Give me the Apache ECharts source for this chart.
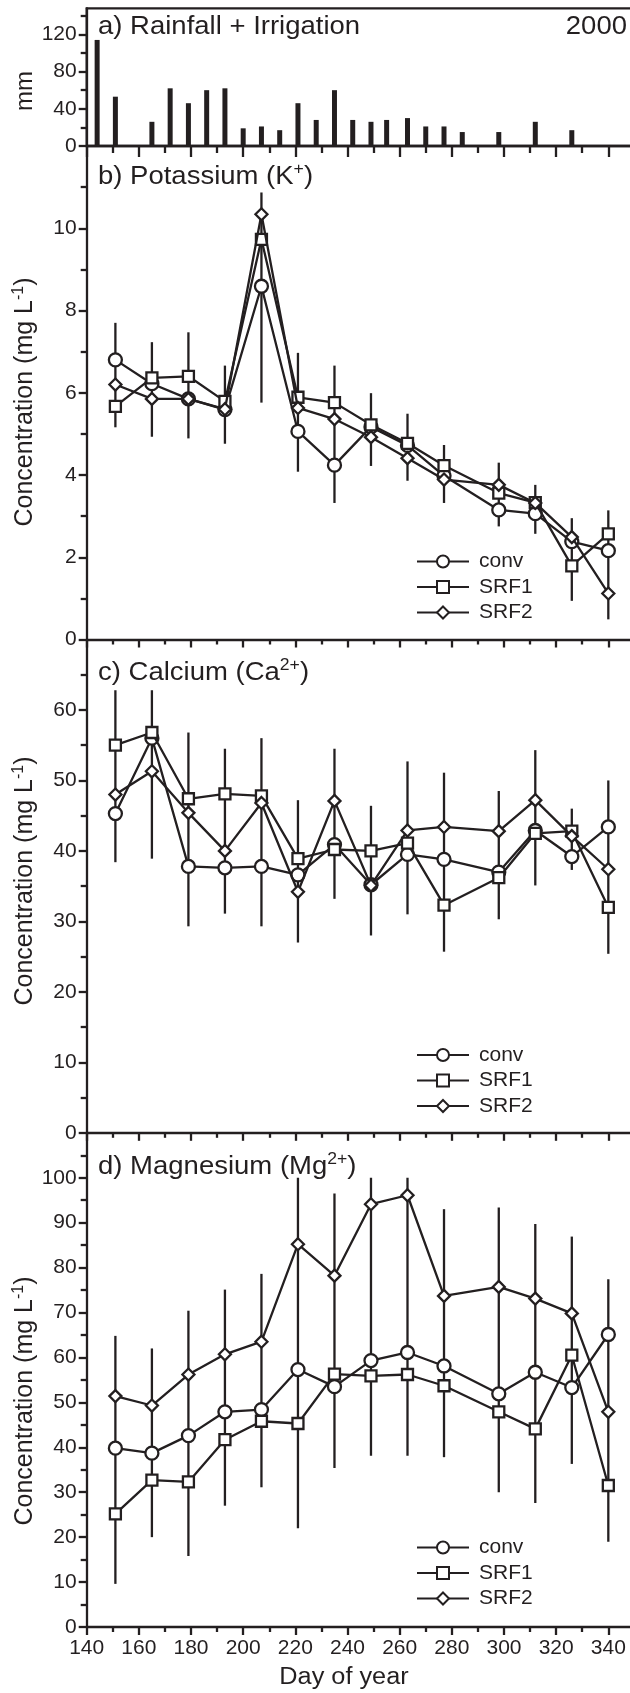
<!DOCTYPE html>
<html><head><meta charset="utf-8">
<script src="https://cdn.jsdelivr.net/npm/echarts@6/dist/echarts.min.js"></script>
<style>html,body{margin:0;padding:0;background:#fff}#c{width:630px;height:1693px}</style>
</head><body><div id="c"></div>
<script>
// ---------- data ----------
const rainDay = [144,151,165,172,179,186,193,200,207,214,221,228,235,242,249,255,263,270,277,284,298,312,326];
const rainMm  = [114,53,26,62,46,60,62,19,21,17,46,28,60,28,26,28,30,21,21,15,15,26,17];

const days = [151,165,179,193,207,221,235,249,263,277,298,312,326,340];

const kConv  = [6.80,6.22,5.85,5.59,8.59,5.06,4.24,5.17,4.72,3.98,3.15,3.06,2.38,2.16];
const kSRF1  = [5.67,6.36,6.40,5.79,9.73,5.89,5.76,5.22,4.77,4.23,3.56,3.33,1.79,2.57];
const kSRF2  = [6.20,5.85,5.85,5.60,10.34,5.63,5.36,4.92,4.41,3.89,3.76,3.32,2.49,1.12];
const kErrLo = [5.16,4.93,4.89,4.76,5.76,4.08,3.32,4.22,3.86,3.32,2.75,2.57,0.94,0.49];
const kErrHi = [7.70,7.23,7.47,6.66,10.87,6.97,6.66,5.99,5.49,4.73,4.30,3.76,2.95,3.14];

const caConv  = [45.3,56.0,37.8,37.6,37.8,36.6,40.9,35.2,39.5,38.8,37.0,42.9,39.2,43.4];
const caSRF1  = [55.0,56.8,47.4,48.1,47.8,38.9,40.2,40.0,41.1,32.3,36.2,42.5,42.8,32.0];
const caSRF2  = [48.0,51.3,45.4,40.0,46.8,34.2,47.1,35.1,42.9,43.4,42.8,47.2,42.1,37.4];
const caErrLo = [38.4,38.9,29.3,31.1,29.3,27.0,33.2,28.0,31.0,25.7,30.3,35.1,37.3,25.4];
const caErrHi = [62.8,62.8,56.8,54.5,56.0,47.2,54.5,46.4,52.7,51.1,48.5,54.3,46.0,50.0];

const mgConv  = [39.8,38.7,42.6,47.9,48.4,57.3,53.5,59.3,61.1,58.1,51.9,56.7,53.3,65.1];
const mgSRF1  = [25.2,32.7,32.3,41.7,45.8,45.3,56.3,55.9,56.2,53.7,47.9,44.1,60.5,31.5];
const mgSRF2  = [51.4,49.3,56.2,60.7,63.5,85.2,78.2,94.1,96.1,73.7,75.7,73.1,69.8,47.9];
const mgErrLo = [9.6,20.0,15.8,27.0,31.1,22.0,35.4,38.1,38.1,37.8,30.0,27.6,36.3,19.0];
const mgErrHi = [64.8,62.0,70.4,75.1,78.6,100.0,96.5,100.0,100.0,93.0,93.4,89.7,86.9,77.4];

const seriesNames = ['conv','SRF1','SRF2'];

// tick labels
const xMajor = [140,160,180,200,220,240,260,280,300,320,340];
const xMinor = [150,170,190,210,230,250,270,290,310,330];
const rainTicks = [0,40,80,120];      const rainMinor = [20,60,100,140];
const kTicks  = [0,2,4,6,8,10];       const kMinor  = [1,3,5,7,9,11];
const caTicks = [0,10,20,30,40,50,60]; const caMinor = [5,15,25,35,45,55,65];
const mgTicks = [0,10,20,30,40,50,60,70,80,90,100]; const mgMinor = [5,15,25,35,45,55,65,75,85,95,105];

// ---------- styling / layout ----------
const FONT = '"Liberation Sans", Arial, Helvetica, sans-serif';
const INK = '#231f20';
const LW = 2.3;
const GL = 86.7, GW = 547.7;
const panels = [
  {top:8.3,   height:137.7, ymax:148, major:rainTicks, minor:rainMinor, xt:[11,7]},
  {top:146,   height:493.5, ymax:12,  major:kTicks,    minor:kMinor,    xt:[8,5]},
  {top:639.5, height:493.3, ymax:70,  major:caTicks,   minor:caMinor,   xt:[8,5]},
  {top:1132.8,height:494.2, ymax:110, major:mgTicks,   minor:mgMinor,   xt:[8,5]}
];

const grid = [], xAxis = [], yAxis = [];
panels.forEach((p, g) => {
  grid.push({left:GL, top:p.top, width:GW, height:p.height, containLabel:false, outerBoundsMode:'none',
    show: g === 0, borderColor: INK, borderWidth: LW, backgroundColor:'transparent'});
  const lbl = {fontSize:21, color:INK, fontFamily:FONT};
  xAxis.push({type:'value', gridIndex:g, position:'bottom', min:140, max:350,
    axisLine:{show:true, onZero:false, lineStyle:{color:INK, width:LW}},
    axisTick:{show:true, inside:false, length:p.xt[0], customValues:xMajor, lineStyle:{color:INK, width:LW}},
    axisLabel:Object.assign({show: g === 3, customValues:xMajor, margin:11}, lbl),
    splitLine:{show:false}});
  xAxis.push({type:'value', gridIndex:g, position:'bottom', min:140, max:350,
    axisLine:{show:false},
    axisTick:{show:true, inside:false, length:p.xt[1], customValues:xMinor, lineStyle:{color:INK, width:LW}},
    axisLabel:{show:false}, splitLine:{show:false}});
  yAxis.push({type:'value', gridIndex:g, position:'left', min:0, max:p.ymax,
    axisLine:{show:true, onZero:false, lineStyle:{color:INK, width:LW}},
    axisTick:{show:true, inside:false, length:8, customValues:p.major, lineStyle:{color:INK, width:LW}},
    axisLabel:Object.assign({show:true, customValues:p.major, margin:10}, lbl),
    splitLine:{show:false}});
  yAxis.push({type:'value', gridIndex:g, position:'left', min:0, max:p.ymax,
    axisLine:{show:false},
    axisTick:{show:true, inside:false, length:6, customValues:p.minor, lineStyle:{color:INK, width:LW}},
    axisLabel:{show:false}, splitLine:{show:false}});
});

const series = [{
  type:'bar', xAxisIndex:0, yAxisIndex:0, barWidth:5,
  data: rainDay.map((d,i)=>[d, rainMm[i]]),
  itemStyle:{color:INK}, silent:true
}];

const symbols = [['circle',13],['rect',11],['diamond',12]];
const panelData = [
  [kConv,kSRF1,kSRF2,kErrLo,kErrHi],
  [caConv,caSRF1,caSRF2,caErrLo,caErrHi],
  [mgConv,mgSRF1,mgSRF2,mgErrLo,mgErrHi]
];
panelData.forEach((pd, k) => {
  const g = k + 1;
  series.push({
    type:'custom', xAxisIndex:2*g, yAxisIndex:2*g, z:1, silent:true,
    data: days.map((d,i)=>[d, pd[3][i], pd[4][i]]),
    encode:{x:0, y:[1,2]},
    renderItem:(params, api)=>{
      const a = api.coord([api.value(0), api.value(1)]);
      const b = api.coord([api.value(0), api.value(2)]);
      return {type:'line', shape:{x1:a[0], y1:a[1], x2:b[0], y2:b[1]},
              style:{stroke:INK, lineWidth:LW}};
    }
  });
  for (let s = 0; s < 3; s++) {
    series.push({
      type:'line', name:seriesNames[s], xAxisIndex:2*g, yAxisIndex:2*g, z:3+s,
      data: days.map((d,i)=>[d, pd[s][i]]),
      symbol:symbols[s][0], symbolSize:symbols[s][1], showSymbol:true, showAllSymbol:true,
      itemStyle:{color:'#fff', borderColor:INK, borderWidth:LW},
      lineStyle:{color:INK, width:LW},
      emphasis:{disabled:true}, silent:true
    });
  }
});

const legendTops = [551, 1044.5, 1537];
const legend = legendTops.map(t => ({
  orient:'vertical', left:416, top:t, padding:0, itemWidth:52, itemHeight:15, itemGap:4.5,
  selectedMode:false, data:seriesNames,
  textStyle:{fontSize:21, color:INK, fontFamily:FONT, padding:[0,0,0,5]}
}));

function txt(x, y, text, size, opts) {
  return Object.assign({type:'text', x:x, y:y, silent:true, style:Object.assign({
    text:text, fontSize:size, fontFamily:FONT, fill:INK,
    align:'left', textAlign:'left', verticalAlign:'middle', textVerticalAlign:'middle',
    rich:{sup:{fontSize:16, fontFamily:FONT, fill:INK, color:INK, padding:[0,0,14,0]}}
  }, (opts && opts.style) || {})}, (opts && opts.el) || {});
}
const center = {align:'center', textAlign:'center'};
const wide = {scaleX:1.1};
const yTitleStyle = Object.assign({}, center,
  {rich:{sup:{fontSize:16, fontFamily:FONT, fill:INK, color:INK, padding:[0,0,12,0]}}});
const graphic = [
  txt(98, 27, 'a) Rainfall + Irrigation', 25, {el:wide}),
  txt(627, 27, '2000', 25, {style:{align:'right', textAlign:'right'}, el:wide}),
  txt(98, 177, 'b) Potassium (K{sup|+})', 25, {el:wide}),
  txt(98, 673, 'c) Calcium (Ca{sup|2+})', 25, {el:wide}),
  txt(98, 1167, 'd) Magnesium (Mg{sup|2+})', 25, {el:wide}),
  txt(25, 91, 'mm', 24, {style:center, el:{rotation:Math.PI/2}}),
  txt(25, 402, 'Concentration (mg L{sup|-1})', 25, {style:yTitleStyle, el:{rotation:Math.PI/2}}),
  txt(25, 881, 'Concentration (mg L{sup|-1})', 25, {style:yTitleStyle, el:{rotation:Math.PI/2}}),
  txt(25, 1401, 'Concentration (mg L{sup|-1})', 25, {style:yTitleStyle, el:{rotation:Math.PI/2}}),
  txt(344, 1678, 'Day of year', 23, {style:center, el:wide})
];

const chart = echarts.init(document.getElementById('c'), null, {renderer:'canvas'});
chart.setOption({
  animation:false, backgroundColor:'#fff',
  textStyle:{fontFamily:FONT, color:INK},
  grid, xAxis, yAxis, series, legend, graphic
});
</script></body></html>
